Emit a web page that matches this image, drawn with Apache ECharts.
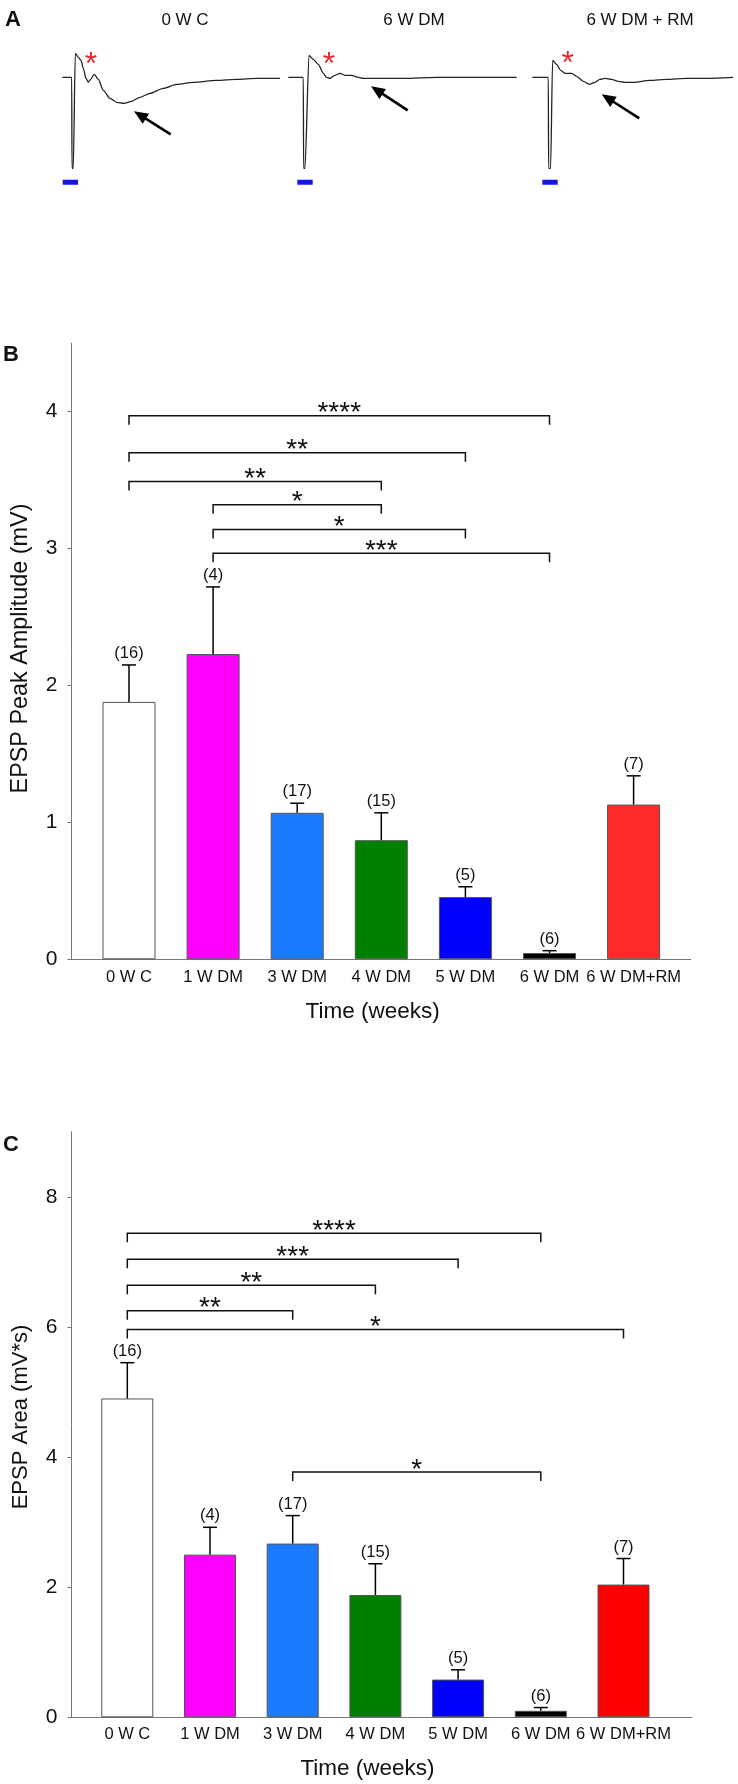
<!DOCTYPE html>
<html><head><meta charset="utf-8">
<script src="https://cdn.jsdelivr.net/npm/echarts@6/dist/echarts.min.js"></script>
<style>html,body{margin:0;padding:0;background:#fff}#c{width:738px;height:1784px}</style>
</head><body><div id="c"></div>
<script>
// ---------- DATA ----------
const categories = ['0 W C', '1 W DM', '3 W DM', '4 W DM', '5 W DM', '6 W DM', '6 W DM+RM'];
const nCounts = [16, 4, 17, 15, 5, 6, 7];

const amplitudeMean = [1.88, 2.23, 1.07, 0.87, 0.455, 0.046, 1.13];
const amplitudeSem  = [0.27, 0.49, 0.07, 0.20, 0.075, 0.017, 0.21];
const areaMean = [4.90, 2.50, 2.67, 1.88, 0.58, 0.10, 2.04];
const areaSem  = [0.55, 0.42, 0.43, 0.48, 0.15, 0.05, 0.40];

const amplitudeTicks = [0, 1, 2, 3, 4];
const areaTicks = [0, 2, 4, 6, 8];

// [from category, to category, bracket level, stars]
const amplitudeBrackets = [[0, 5, 3.97, '****'], [0, 4, 3.70, '**'], [0, 3, 3.49, '**'], [1, 3, 3.32, '*'], [1, 4, 3.14, '*'], [1, 5, 2.966, '***']];
const areaBrackets = [[0, 5, 7.44, '****'], [0, 4, 7.04, '***'], [0, 3, 6.64, '**'], [0, 2, 6.25, '**'], [0, 6, 5.96, '*'], [2, 5, 3.77, '*']];

// Panel A traces: [time (a.u.), voltage (a.u.)]
const traceLabels = ['0 W C', '6 W DM', '6 W DM + RM'];
const traceCtrl = [[0,0],[9.4,0],[9.7,-91],[11,-91],[13,24],[16,20],[18.7,17],[21,9],[23.7,-1],[26,-5],[28.3,-2],[32,3],[36,-2],[41,-13],[47.7,-21],[54.3,-25],[61.7,-26],[69.3,-24],[77.7,-20],[87.7,-16],[101,-11],[114.3,-7],[131,-5],[154.3,-3],[174.3,-2],[194.3,-1],[217.7,-1]];
const traceDm6 = [[0,0],[15,0],[15.3,-91],[16.7,-91],[20.7,22],[25,18],[30,13],[35,4],[38.3,0],[41.7,-1],[46.7,2],[51.7,4],[56.7,2],[63.3,2],[70,0],[75,-1],[88.3,-1],[115,-1],[148.3,0],[181.7,0],[228.4,0]];
const traceDmRm = [[0,0],[16,0],[16.3,-91],[18.3,-91],[20.3,17],[24.3,13],[28.3,7],[32.7,4],[36,4],[39.3,4],[44.3,1],[51,-4],[57,-7],[62.7,-5],[67.7,-2],[72.7,-1],[79.3,-2],[86,-4],[92.7,-5],[101,-5],[117.7,-3],[134.3,-2],[154.3,-1],[174.3,-1],[200.7,0]];
// arrow [tail, head]
const traceArrows = [[[108.4,-57],[71.7,-34]], [[119.4,-33],[82.7,-9]], [[107,-41],[69.4,-17]]];
const traceStars = [[28.7,19],[40.7,19],[35.4,20.6]];
const stimSpans = [[0.4,15.7],[9,24.4],[10,25.4]];
const stimLevel = -105;

// ---------- STYLE ----------
const FONT = 'Liberation Sans, Arial, Helvetica, sans-serif';
const INK = '#111';
const AXIS = '#777';
const colorsB = ['#ffffff', '#ff00ff', '#1a7bff', '#008000', '#0000ff', '#000000', '#ff2b2b'];
const colorsC = ['#ffffff', '#ff00ff', '#1a7bff', '#008000', '#0000ff', '#000000', '#ff0000'];

const traces = [traceCtrl, traceDm6, traceDmRm];
const traceGrids = [
  {left: 62.3, width: 217.7}, {left: 288.3, width: 228.4}, {left: 532.3, width: 200.7}
];

const grid = [];
const xAxis = [];
const yAxis = [];
const series = [];

traces.forEach((tr, k) => {
  grid.push({left: traceGrids[k].left, width: traceGrids[k].width, top: 47.3, height: 140});
  xAxis.push({type: 'value', gridIndex: k, min: 0, max: tr[tr.length - 1][0], show: false});
  yAxis.push({type: 'value', gridIndex: k, min: -110, max: 30, show: false});
  series.push({
    type: 'line', xAxisIndex: k, yAxisIndex: k, data: tr, showSymbol: false, symbol: 'none',
    smooth: 0.25, smoothMonotone: 'x', clip: false,
    lineStyle: {color: '#222', width: 1.3}
  });
  series.push({
    type: 'line', xAxisIndex: k, yAxisIndex: k, symbol: 'none', clip: false,
    data: [[stimSpans[k][0], stimLevel], [stimSpans[k][1], stimLevel]],
    lineStyle: {color: '#1414e6', width: 5, cap: 'butt'}
  });
  series.push({
    type: 'custom', xAxisIndex: k, yAxisIndex: k, data: [traceStars[k]],
    renderItem: (p, api) => {
      const c = api.coord([api.value(0), api.value(1)]);
      return {type: 'text', x: c[0], y: c[1] + 7,
        style: {text: '*', fontSize: 32, fontFamily: FONT, fill: '#e8262a', align: 'center', verticalAlign: 'middle'}};
    }
  });
  series.push({
    type: 'custom', xAxisIndex: k, yAxisIndex: k,
    data: [[traceArrows[k][0][0], traceArrows[k][0][1], traceArrows[k][1][0], traceArrows[k][1][1]]],
    renderItem: (p, api) => {
      const t = api.coord([api.value(0), api.value(1)]);
      const h = api.coord([api.value(2), api.value(3)]);
      const dx = h[0] - t[0], dy = h[1] - t[1];
      const len = Math.sqrt(dx * dx + dy * dy);
      const ux = dx / len, uy = dy / len;
      const hl = 14, hw = 6;
      const bx = h[0] - ux * hl, by = h[1] - uy * hl;
      return {type: 'group', children: [
        {type: 'line', shape: {x1: t[0], y1: t[1], x2: bx + ux * 2, y2: by + uy * 2}, style: {stroke: '#000', lineWidth: 2.6}},
        {type: 'polygon', shape: {points: [[h[0], h[1]], [bx - uy * hw, by + ux * hw], [bx + uy * hw, by - ux * hw]]}, style: {fill: '#000'}}
      ]};
    }
  });
});

function addBarPanel(opts) {
  const gOuter = grid.length;
  grid.push({left: 71.5, top: opts.top, width: opts.outerWidth, height: opts.height});
  xAxis.push({type: 'value', gridIndex: gOuter, min: 0, max: 1,
    axisLine: {show: true, lineStyle: {color: AXIS, width: 1}}, axisTick: {show: false},
    axisLabel: {show: false}, splitLine: {show: false}});
  yAxis.push({type: 'value', gridIndex: gOuter, min: 0, max: opts.max,
    axisLine: {show: true, lineStyle: {color: AXIS, width: 1}},
    axisTick: {show: true, length: 4, customValues: opts.ticks, lineStyle: {color: AXIS}},
    axisLabel: {customValues: opts.ticks, fontSize: 21, fontFamily: FONT, color: INK, margin: 14},
    splitLine: {show: false}});
  const gi = grid.length;
  grid.push({left: opts.innerLeft, top: opts.top, width: opts.innerWidth, height: opts.height});
  xAxis.push({type: 'category', gridIndex: gi, data: categories,
    axisLine: {show: false}, axisTick: {show: false},
    axisLabel: {fontSize: 16.5, fontFamily: FONT, color: INK, margin: opts.labelMargin, interval: 0}});
  yAxis.push({type: 'value', gridIndex: gi, min: 0, max: opts.max, show: false});

  series.push({
    type: 'bar', xAxisIndex: gi, yAxisIndex: gi, barWidth: opts.barWidth,
    data: opts.mean.map((v, i) => ({value: v, itemStyle: {color: opts.colors[i]}})),
    itemStyle: {borderColor: '#555', borderWidth: 1}, z: 2
  });
  series.push({
    type: 'custom', xAxisIndex: gi, yAxisIndex: gi, z: 3,
    encode: {x: 0, y: [1, 2]},
    data: opts.mean.map((v, i) => [i, v, v + opts.sem[i]]),
    renderItem: (p, api) => {
      const i = api.value(0);
      const a = api.coord([i, api.value(1)]);
      const b = api.coord([i, api.value(2)]);
      const cap = 7;
      return {type: 'group', children: [
        {type: 'line', shape: {x1: a[0], y1: a[1], x2: b[0], y2: b[1]}, style: {stroke: '#000', lineWidth: 1.5}},
        {type: 'line', shape: {x1: b[0] - cap, y1: b[1], x2: b[0] + cap, y2: b[1]}, style: {stroke: '#000', lineWidth: 1.5}},
        {type: 'text', x: b[0], y: b[1] - 3, style: {text: '(' + nCounts[p.dataIndex] + ')', fontSize: 16.5, fontFamily: FONT, fill: INK, align: 'center', verticalAlign: 'bottom'}}
      ]};
    }
  });
  series.push({
    type: 'custom', xAxisIndex: gi, yAxisIndex: gi, z: 3,
    encode: {x: [0, 1], y: 2},
    data: opts.brackets.map(b => [b[0], b[1], b[2]]),
    renderItem: (p, api) => {
      const a = api.coord([api.value(0), api.value(2)]);
      const b = api.coord([api.value(1), api.value(2)]);
      const t = 9;
      return {type: 'group', children: [
        {type: 'polyline', shape: {points: [[a[0], a[1] + t], [a[0], a[1]], [b[0], b[1]], [b[0], b[1] + t]]},
          style: {stroke: '#111', lineWidth: 1.5, fill: null}},
        {type: 'text', x: (a[0] + b[0]) / 2, y: a[1] - 2,
          style: {text: opts.brackets[p.dataIndex][3], fontSize: 28, fontFamily: FONT, fill: INK, align: 'center', verticalAlign: 'middle'}}
      ]};
    }
  });
}

addBarPanel({top: 343.2, height: 616.1, outerWidth: 619.2, innerLeft: 86.95, innerWidth: 588.7,
  max: 4.5, ticks: amplitudeTicks, mean: amplitudeMean, sem: amplitudeSem, colors: colorsB,
  brackets: amplitudeBrackets, barWidth: 53, labelMargin: 10});
addBarPanel({top: 1131.7, height: 585.6, outerWidth: 620.5, innerLeft: 85.95, innerWidth: 578.9,
  max: 9, ticks: areaTicks, mean: areaMean, sem: areaSem, colors: colorsC,
  brackets: areaBrackets, barWidth: 52, labelMargin: 9});

function txt(text, x, y, size, extra) {
  return Object.assign({type: 'text', x: x, y: y,
    style: {text: text, fontSize: size, fontFamily: FONT, fill: INK, align: 'center', verticalAlign: 'middle'}}, extra || {});
}
const graphic = [
  txt('A', 13, 20, 22), txt('B', 11, 355, 22), txt('C', 11, 1145, 22),
  txt(traceLabels[0], 185, 20, 17), txt(traceLabels[1], 414, 20, 17), txt(traceLabels[2], 640, 20, 17),
  txt('Time (weeks)', 372.7, 1012, 22.5), txt('Time (weeks)', 367.5, 1769, 22.5),
  txt('EPSP Peak Amplitude (mV)', 20.5, 648.5, 23.4, {rotation: Math.PI / 2}),
  txt('EPSP Area (mV*s)', 20.5, 1417, 22, {rotation: Math.PI / 2})
];
graphic[0].style.fontWeight = 'bold';
graphic[1].style.fontWeight = 'bold';
graphic[2].style.fontWeight = 'bold';

const chart = echarts.init(document.getElementById('c'), null, {renderer: 'canvas'});
chart.setOption({animation: false, backgroundColor: '#fff', grid, xAxis, yAxis, series, graphic});
</script></body></html>
